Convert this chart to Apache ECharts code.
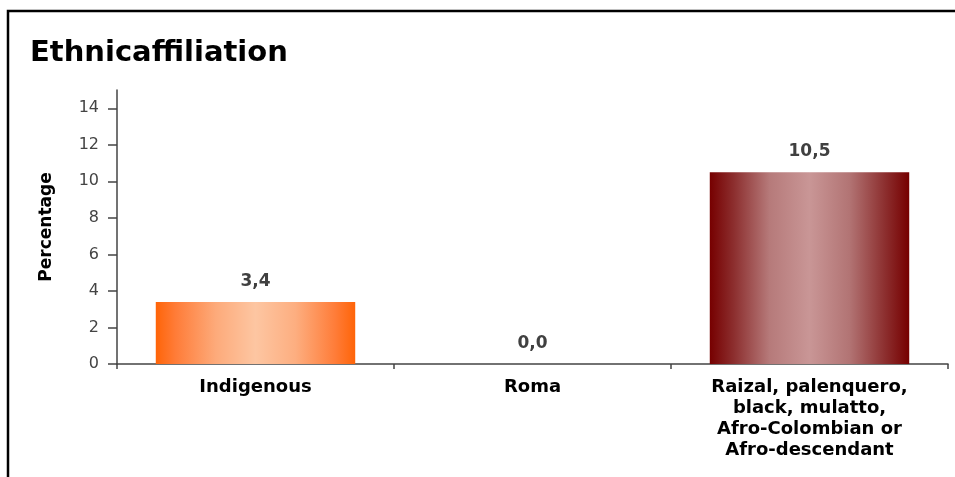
<!DOCTYPE html>
<html>
<head>
<meta charset="utf-8">
<script src="https://cdn.jsdelivr.net/npm/echarts@6/dist/echarts.min.js"></script>
<style>
  html, body { margin: 0; padding: 0; background: #fff; }
  #main { width: 955px; height: 477px; }
</style>
</head>
<body>
<div id="main"></div>
<script>
// data
var categories = ["Indigenous", "Roma", "Raizal, palenquero,\nblack, mulatto,\nAfro-Colombian or\nAfro-descendant"];
var values = [3.4, 0.0, 10.5];
var tickValues = [0, 2, 4, 6, 8, 10, 12, 14];

var font = "DejaVu Sans";

// bar fills (horizontal cylinder-like gradient)
var orangeFill = new echarts.graphic.LinearGradient(0, 0, 1, 0, [
	{ offset: 0, color: '#ff6408' },
	{ offset: 0.1, color: '#ff7c38' },
	{ offset: 0.3, color: '#fdaa7a' },
	{ offset: 0.5, color: '#fdc6a2' },
	{ offset: 0.7, color: '#fdae80' },
	{ offset: 0.9, color: '#ff7c38' },
	{ offset: 1, color: '#ff6408' }
]);
var redFill = new echarts.graphic.LinearGradient(0, 0, 1, 0, [
	{ offset: 0, color: '#760000' },
	{ offset: 0.12, color: '#8c2e2e' },
	{ offset: 0.3, color: '#b67a7a' },
	{ offset: 0.5, color: '#c99696' },
	{ offset: 0.7, color: '#b27474' },
	{ offset: 0.88, color: '#8c2e2e' },
	{ offset: 1, color: '#760000' }
]);
var fills = [orangeFill, orangeFill, redFill];

var myChart = echarts.init(document.getElementById("main"));

var option = {
	animation: false,
	title: {
		text: 'Ethnicaffiliation',
		left: 30,
		top: 39,
		padding: 0,
		textStyle: {
			fontFamily: font,
			fontWeight: 'bold',
			fontSize: 29,
			color: '#000'
		}
	},
	grid: {
		left: 117,
		right: 7,
		top: 90,
		bottom: 113
	},
	xAxis: {
		type: 'category',
		data: categories,
		boundaryGap: true,
		axisLine: { lineStyle: { color: '#444', width: 1.5 } },
		axisTick: { show: true, length: 5, lineStyle: { color: '#444', width: 1.5 } },
		axisLabel: {
			interval: 0,
			margin: 13,
			fontFamily: font,
			fontWeight: 'bold',
			fontSize: 18,
			lineHeight: 21,
			color: '#000'
		}
	},
	yAxis: {
		type: 'value',
		min: 0,
		max: 15,
		interval: 2,
		name: 'Percentage',
		nameLocation: 'middle',
		nameRotate: 90,
		nameGap: 62,
		nameTextStyle: {
			fontFamily: font,
			fontWeight: 'bold',
			fontSize: 17,
			color: '#000'
		},
		splitLine: { show: false },
		axisLine: { show: true, lineStyle: { color: '#444', width: 1.5 } },
		axisTick: { show: true, length: 9, customValues: tickValues, lineStyle: { color: '#444', width: 1.5 } },
		axisLabel: {
			margin: 18,
			customValues: tickValues,
			fontFamily: font,
			fontSize: 16,
			color: '#444'
		}
	},
	series: [{
		type: 'bar',
		barWidth: '72%',
		data: values.map(function(v, i) {
			return { value: v, itemStyle: { color: fills[i] } };
		}),
		label: {
			show: true,
			position: 'top',
			distance: 12,
			fontFamily: font,
			fontWeight: 'bold',
			fontSize: 17,
			color: '#404040',
			formatter: function(p) {
				return p.value.toFixed(1).replace('.', ',');
			}
		}
	}],
	graphic: [{
		type: 'polyline',
		shape: { points: [[8, 477], [8, 11], [955, 11]] },
		style: { stroke: '#000', lineWidth: 2.5, fill: null }
	}]
};

myChart.setOption(option, true);
</script>
</body>
</html>
